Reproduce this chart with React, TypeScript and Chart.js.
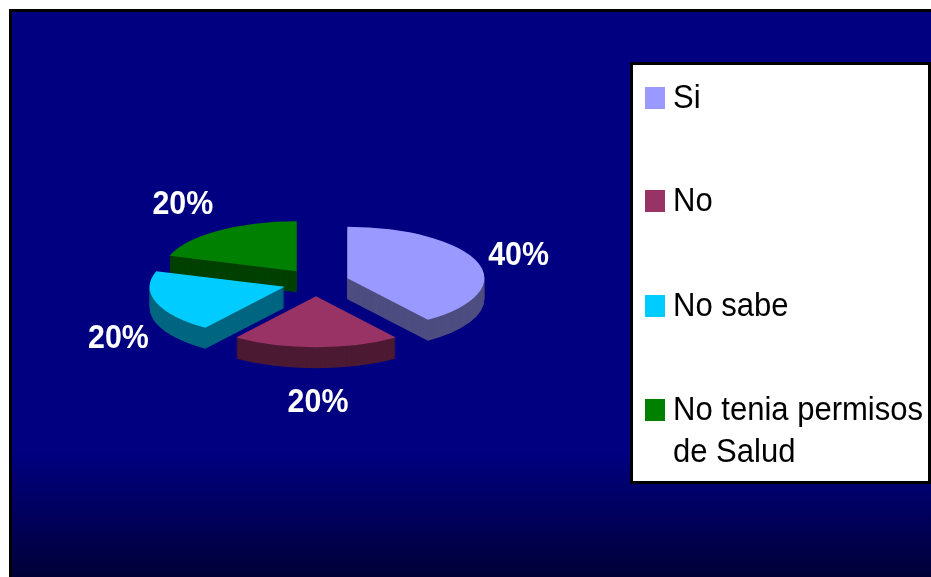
import React, { useEffect, useRef } from "react";
import { Chart, registerables } from "chart.js";

Chart.register(...registerables);

const categories = ["Si", "No", "No sabe", "No tenia permisos de Salud"];
const values = [40, 20, 20, 20];
const topColors = ["#9999ff", "#993366", "#00ccff", "#008000"];
const sideColors = ["#4d4d80", "#4d1a33", "#006680", "#004000"];

const W = 931;
const H = 577;
const TILT = 0.375;
const EXPLODE = 33;
const EXPLODE_TILT = 0.42;
const DEPTH = 21;
const LABEL_R = 180;
const LABEL_TILT = 0.46;
const LABEL_NUDGE = [[0, 0], [2, 0], [5, 3], [-8, -2]];
const SLICE_SCALE = [1, 0.99, 0.985, 0.975];
const DRAW_ORDER = [3, 0, 2, 1];

function text(ctx: CanvasRenderingContext2D, s: string, x: number, y: number, font: string, color: string, xScale: number, align: CanvasTextAlign) {
  ctx.save();
  ctx.font = font;
  ctx.fillStyle = color;
  ctx.textAlign = align;
  ctx.textBaseline = "alphabetic";
  ctx.translate(x, y);
  ctx.scale(xScale, 1);
  ctx.fillText(s, 0, 0);
  ctx.restore();
}

const backdrop = {
  id: "backdrop",
  beforeDraw(chart: any) {
    const ctx = chart.ctx as CanvasRenderingContext2D;
    ctx.save();
    ctx.fillStyle = "#ffffff";
    ctx.fillRect(0, 0, W, H);
    ctx.fillStyle = "#000000";
    ctx.fillRect(9, 9, W - 9, H - 9);
    const g = ctx.createLinearGradient(0, 12, 0, H);
    g.addColorStop(0, "#000080");
    g.addColorStop(0.78, "#000080");
    g.addColorStop(1, "#000038");
    ctx.fillStyle = g;
    ctx.fillRect(12, 12, W - 12, H - 12);
    ctx.restore();
  },
};

const pie3d = {
  id: "pie3d",
  beforeDatasetsDraw(chart: any) {
    const ctx = chart.ctx as CanvasRenderingContext2D;
    const arcs = chart.getDatasetMeta(0).data;
    for (const i of DRAW_ORDER) {
      const el = arcs[i];
      const { x, y, startAngle, endAngle, outerRadius } = el.getProps(["x", "y", "startAngle", "endAngle", "outerRadius"], true);
      const mid = (startAngle + endAngle) / 2;
      const ox = x + Math.cos(mid) * EXPLODE;
      const oy = y + Math.sin(mid) * EXPLODE * EXPLODE_TILT;
      const s = SLICE_SCALE[i];
      ctx.fillStyle = sideColors[i];
      for (let d = DEPTH; d >= 1; d--) {
        ctx.save();
        ctx.translate(ox, oy + d);
        ctx.scale(s, TILT * s);
        ctx.beginPath();
        ctx.moveTo(0, 0);
        ctx.arc(0, 0, outerRadius, startAngle, endAngle);
        ctx.closePath();
        ctx.fill();
        ctx.restore();
      }
      ctx.save();
      ctx.translate(ox, oy);
      ctx.scale(s, TILT * s);
      ctx.translate(-x, -y);
      el.draw(ctx);
      ctx.restore();
    }
    const total = values.reduce((a, b) => a + b, 0);
    arcs.forEach((el: any, i: number) => {
      const { x, y, startAngle, endAngle } = el.getProps(["x", "y", "startAngle", "endAngle"], true);
      const mid = (startAngle + endAngle) / 2;
      const ox = x + Math.cos(mid) * EXPLODE;
      const oy = y + Math.sin(mid) * EXPLODE * EXPLODE_TILT;
      const dy = Math.sin(mid) * LABEL_R * LABEL_TILT;
      const lx = ox + Math.cos(mid) * LABEL_R + LABEL_NUDGE[i][0];
      const ly = oy + dy + (dy > 0 ? DEPTH : 0) + LABEL_NUDGE[i][1];
      const pct = Math.round((values[i] / total) * 100) + "%";
      text(ctx, pct, lx, ly + 12, "bold 33px 'Liberation Sans'", "#ffffff", 0.92, "center");
    });
    return false;
  },
};

const legendBox = {
  id: "legendBox",
  afterDraw(chart: any) {
    const ctx = chart.ctx as CanvasRenderingContext2D;
    const box = { x: 630, y: 62, r: 931, b: 484 };
    ctx.save();
    ctx.fillStyle = "#000000";
    ctx.fillRect(box.x, box.y, box.r - box.x, box.b - box.y);
    ctx.fillStyle = "#ffffff";
    ctx.fillRect(box.x + 3, box.y + 3, box.r - box.x - 6, box.b - box.y - 6);
    const font = "33px 'Liberation Sans'";
    const xs = 0.94;
    const baselines = [[108], [211], [316], [420, 462]];
    categories.forEach((name, i) => {
      ctx.fillStyle = topColors[i];
      ctx.fillRect(645, baselines[i][0] - 21, 20, 22);
      const lines = i === 3 ? [name.slice(0, 17), name.slice(18)] : [name];
      lines.forEach((ln, j) => text(ctx, ln, 673, baselines[i][j], font, "#000000", xs, "left"));
    });
    ctx.restore();
  },
};

export default function App() {
  const ref = useRef<HTMLCanvasElement>(null);
  useEffect(() => {
    const chart = new Chart(ref.current!, {
      type: "pie",
      data: {
        labels: categories,
        datasets: [{ data: values, backgroundColor: topColors, borderWidth: 0 }],
      },
      options: {
        animation: false,
        responsive: false,
        devicePixelRatio: 1,
        layout: { padding: { left: 179, right: 478, top: 145.5, bottom: 157.5 } },
        plugins: { legend: { display: false }, tooltip: { enabled: false } },
      },
      plugins: [backdrop, pie3d, legendBox],
    } as any);
    return () => chart.destroy();
  }, []);
  return <canvas ref={ref} width={W} height={H} style={{ position: "absolute", left: 0, top: 0, display: "block" }} />;
}
